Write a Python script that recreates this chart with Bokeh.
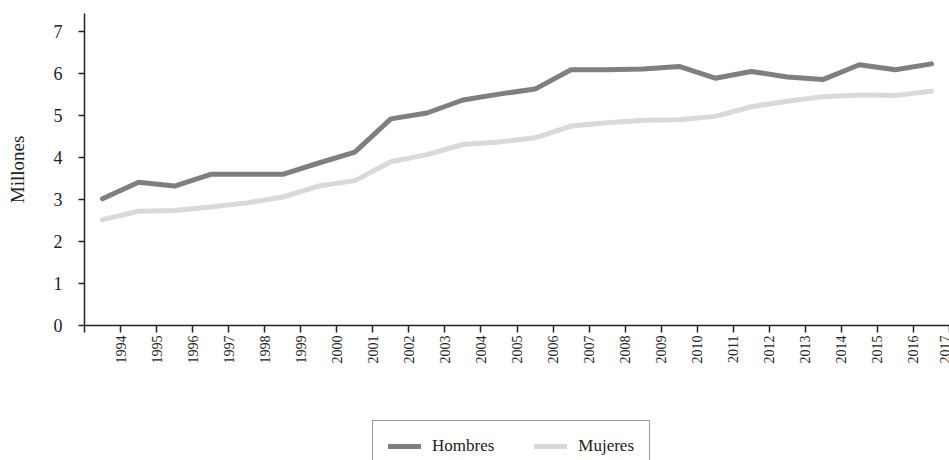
import math
from bokeh.plotting import figure
from bokeh.layouts import column
from bokeh.models import FixedTicker, Range1d, Legend, LegendItem, ColumnDataSource
from bokeh.embed import file_html
from bokeh.resources import INLINE

years = list(range(1994, 2018))
hombres = [3.02, 3.41, 3.32, 3.60, 3.60, 3.60, 3.87, 4.13, 4.92, 5.06, 5.37, 5.51,
           5.63, 6.09, 6.09, 6.11, 6.17, 5.89, 6.05, 5.92, 5.86, 6.21, 6.09, 6.23]
mujeres = [2.52, 2.72, 2.74, 2.82, 2.92, 3.06, 3.32, 3.45, 3.90, 4.07, 4.31, 4.37,
           4.47, 4.75, 4.83, 4.89, 4.90, 4.98, 5.21, 5.34, 5.45, 5.49, 5.48, 5.58]
tick_years = list(range(1993, 2018))
y_ticks = [0, 1, 2, 3, 4, 5, 6, 7]

FONT = "Liberation Serif"
C_H = "#7f7f7f"
C_M = "#d9d9d9"

src = ColumnDataSource(dict(x=[y - 0.5 for y in years], h=hombres, m=mujeres))

p = figure(width=949, height=400, output_backend="svg", toolbar_location=None,
           x_range=Range1d(1993, 2017), y_range=Range1d(0, 7.43),
           min_border_left=84, min_border_top=13, min_border_bottom=75, min_border_right=0)
p.outline_line_color = None
p.xgrid.grid_line_color = None
p.ygrid.grid_line_color = None
p.background_fill_color = "white"
p.border_fill_color = "white"

p.line("x", "h", source=src, line_color=C_H, line_width=5, line_cap="round", line_join="round")
p.line("x", "m", source=src, line_color=C_M, line_width=5, line_cap="round", line_join="round")

# x axis
xa = p.xaxis[0]
xa.ticker = FixedTicker(ticks=tick_years)
xa.major_label_overrides = {1993: ""}
xa.major_label_orientation = math.pi / 2
xa.major_label_text_font = FONT
xa.major_label_text_font_size = "14px"
xa.major_label_text_color = "#222222"
xa.major_label_standoff = 3
xa.major_tick_out = 7
xa.major_tick_in = 0
xa.minor_tick_line_color = None
xa.axis_line_color = "#222222"
xa.axis_line_width = 1.5
xa.major_tick_line_color = "#222222"
xa.major_tick_line_width = 1.5

# y axis
ya = p.yaxis[0]
ya.ticker = FixedTicker(ticks=y_ticks)
ya.major_label_text_font = FONT
ya.major_label_text_font_size = "18px"
ya.major_label_text_color = "#222222"
ya.major_label_standoff = 16
ya.major_tick_out = 6
ya.major_tick_in = 0
ya.minor_tick_line_color = None
ya.axis_line_color = "#222222"
ya.axis_line_width = 1.5
ya.major_tick_line_color = "#222222"
ya.major_tick_line_width = 1.5
ya.axis_label = "Millones"
ya.axis_label_text_font = FONT
ya.axis_label_text_font_size = "19px"
ya.axis_label_text_font_style = "normal"
ya.axis_label_text_color = "#222222"
ya.axis_label_standoff = 23

# legend strip
p2 = figure(width=949, height=60, output_backend="svg", toolbar_location=None,
            x_range=Range1d(0, 1), y_range=Range1d(0, 1),
            x_axis_location=None, y_axis_location=None, min_border=0)
p2.outline_line_color = None
p2.xgrid.grid_line_color = None
p2.ygrid.grid_line_color = None
lh = p2.line("x", "h", source=src, line_color=C_H, line_width=5, line_cap="round")
lm = p2.line("x", "m", source=src, line_color=C_M, line_width=5, line_cap="round")

legend = Legend(items=[LegendItem(label="Hombres", renderers=[lh]),
                       LegendItem(label="Mujeres", renderers=[lm])],
                orientation="horizontal", location=(288, -12))
legend.label_text_font = FONT
legend.label_text_font_size = "17px"
legend.label_text_color = "#222222"
legend.glyph_width = 33
legend.glyph_height = 20
legend.label_standoff = 11
legend.spacing = 40
legend.padding = 15
legend.margin = 0
legend.border_line_color = "#333333"
legend.border_line_width = 1
legend.background_fill_alpha = 1
p2.add_layout(legend, "center")

layout = column(p, p2, spacing=0)
open("out.html", "w").write(file_html(layout, INLINE))
